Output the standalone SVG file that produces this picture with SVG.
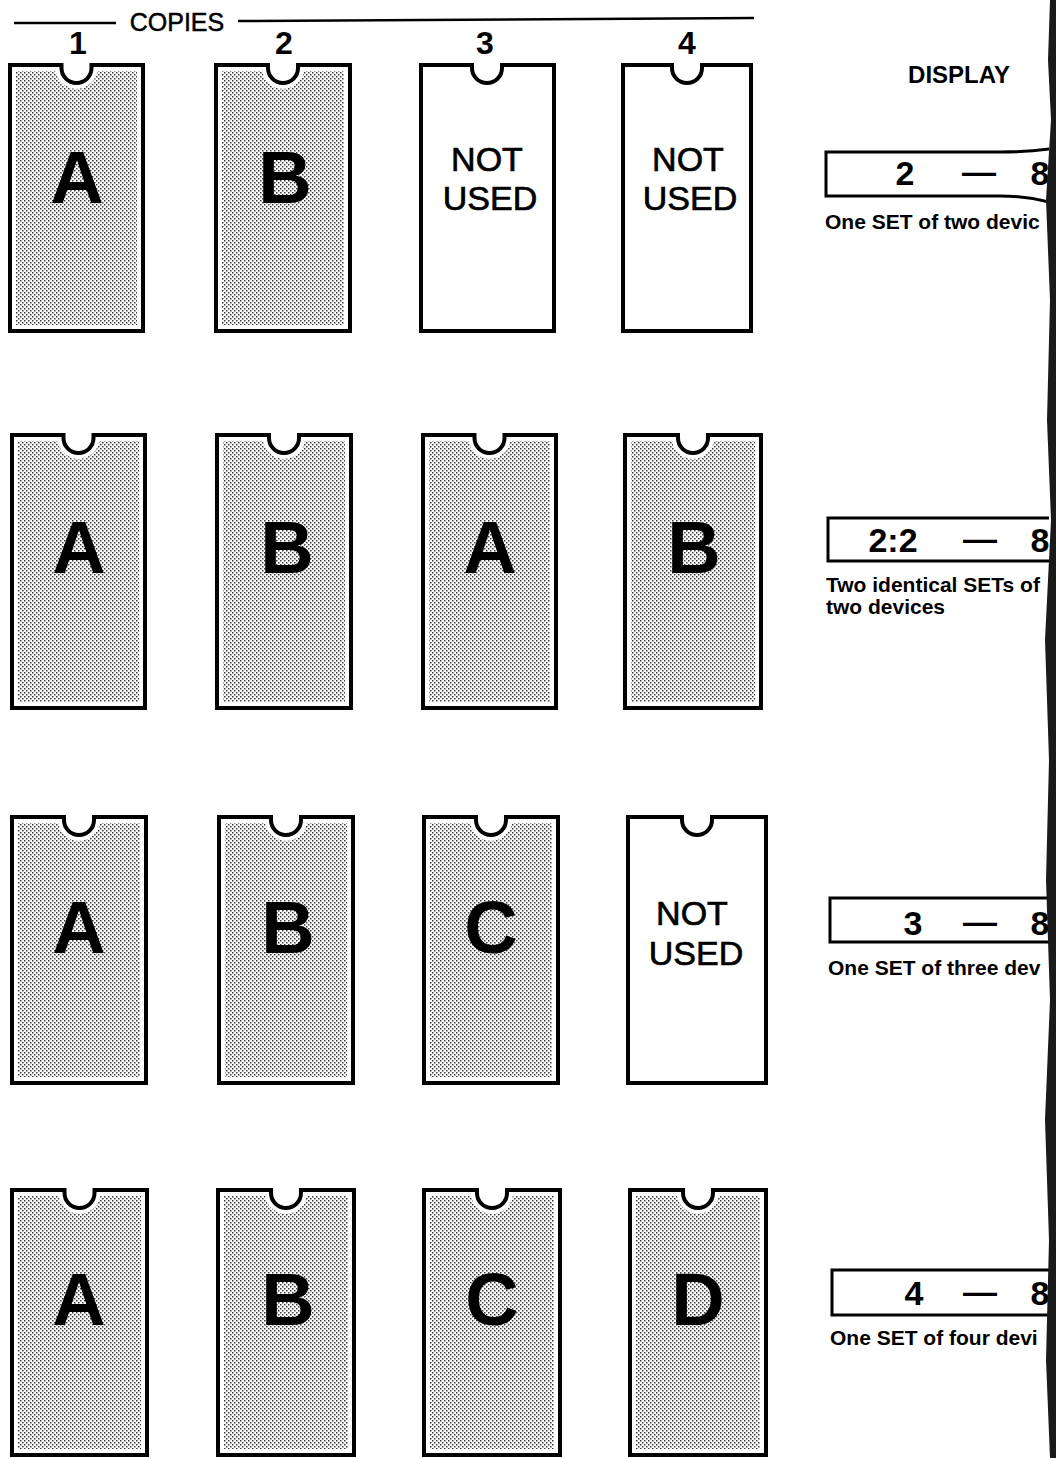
<svg xmlns="http://www.w3.org/2000/svg" xmlns:xlink="http://www.w3.org/1999/xlink" width="1056" height="1458" viewBox="0 0 1056 1458">
<style>
text{font-family:"Liberation Sans",Arial,Helvetica,sans-serif;fill:#000}
.halo{fill:url(#dots);stroke:#fff;stroke-width:12;stroke-linejoin:miter}
.edge{fill:none;stroke:#000;stroke-width:4;stroke-linejoin:miter}
.blank{fill:#fff;stroke:#000;stroke-width:4;stroke-linejoin:miter}
.big{font-size:74px;font-weight:bold;text-anchor:middle}
.nu{font-size:34px;text-anchor:middle;stroke:#000;stroke-width:0.7}
.num{font-size:32px;font-weight:bold;text-anchor:middle}
.box{fill:#fff;stroke:#000;stroke-width:3}
.dig{font-size:34px;font-weight:bold;text-anchor:middle}
.cap{font-size:21px;font-weight:bold}
.rule{stroke:#000;stroke-width:2.5;fill:none}
</style>
<defs>
<pattern id="dots" width="4" height="4" patternUnits="userSpaceOnUse">
<rect width="4" height="4" fill="#fff"/>
<rect x="0" y="0" width="1.5" height="1.5" fill="#3a3a3a"/>
<rect x="2" y="2" width="1.5" height="1.5" fill="#3a3a3a"/>
</pattern>
<clipPath id="page"><rect x="0" y="0" width="1049" height="1458"/></clipPath>
<path id="p11" d="M10,65 H61.5 v3 a15,15 0 0 0 30,0 v-3 H143 V331 H10 Z"/>
<path id="p12" d="M216,65 H268 v3 a15,15 0 0 0 30,0 v-3 H350 V331 H216 Z"/>
<path id="p21" d="M12,435 H63.5 v3 a15,15 0 0 0 30,0 v-3 H145 V708 H12 Z"/>
<path id="p22" d="M217,435 H269 v3 a15,15 0 0 0 30,0 v-3 H351 V708 H217 Z"/>
<path id="p23" d="M423,435 H474.5 v3 a15,15 0 0 0 30,0 v-3 H556 V708 H423 Z"/>
<path id="p24" d="M625,435 H678 v3 a15,15 0 0 0 30,0 v-3 H761 V708 H625 Z"/>
<path id="p31" d="M12,817 H64 v3 a15,15 0 0 0 30,0 v-3 H146 V1083 H12 Z"/>
<path id="p32" d="M219,817 H271 v3 a15,15 0 0 0 30,0 v-3 H353 V1083 H219 Z"/>
<path id="p33" d="M424,817 H476 v3 a15,15 0 0 0 30,0 v-3 H558 V1083 H424 Z"/>
<path id="p41" d="M12,1190 H64.5 v3 a15,15 0 0 0 30,0 v-3 H147 V1455 H12 Z"/>
<path id="p42" d="M218,1190 H271 v3 a15,15 0 0 0 30,0 v-3 H354 V1455 H218 Z"/>
<path id="p43" d="M424,1190 H477 v3 a15,15 0 0 0 30,0 v-3 H560 V1455 H424 Z"/>
<path id="p44" d="M630,1190 H683 v3 a15,15 0 0 0 30,0 v-3 H766 V1455 H630 Z"/>
</defs>

<g id="header">
<line class="rule" x1="14" y1="23" x2="116" y2="23"/>
<text x="177" y="31" font-size="25" text-anchor="middle" stroke="#000" stroke-width="0.5">COPIES</text>
<line class="rule" x1="238" y1="21" x2="754" y2="18"/>
<text class="num" x="78" y="54">1</text>
<text class="num" x="284" y="54">2</text>
<text class="num" x="485" y="54">3</text>
<text class="num" x="687" y="54">4</text>
<text x="959" y="83" font-size="24" font-weight="bold" text-anchor="middle">DISPLAY</text>
</g>

<!-- Row 1 -->
<g id="r1c1">
<use href="#p11" xlink:href="#p11" class="halo"/>
<use href="#p11" xlink:href="#p11" class="edge"/>
<text class="big" x="77" y="203">A</text>
</g>
<g id="r1c2">
<use href="#p12" xlink:href="#p12" class="halo"/>
<use href="#p12" xlink:href="#p12" class="edge"/>
<text class="big" x="285" y="203">B</text>
</g>
<g id="r1c3">
<path class="blank" d="M421,65 H472 v3 a15,15 0 0 0 30,0 v-3 H554 V331 H421 Z"/>
<text class="nu" x="487" y="171">NOT</text>
<text class="nu" x="490" y="210">USED</text>
</g>
<g id="r1c4">
<path class="blank" d="M623,65 H672 v3 a15,15 0 0 0 30,0 v-3 H751 V331 H623 Z"/>
<text class="nu" x="688" y="171">NOT</text>
<text class="nu" x="690" y="210">USED</text>
</g>

<!-- Row 2 -->
<g id="r2c1">
<use href="#p21" xlink:href="#p21" class="halo"/>
<use href="#p21" xlink:href="#p21" class="edge"/>
<text class="big" x="79" y="573">A</text>
</g>
<g id="r2c2">
<use href="#p22" xlink:href="#p22" class="halo"/>
<use href="#p22" xlink:href="#p22" class="edge"/>
<text class="big" x="287" y="573">B</text>
</g>
<g id="r2c3">
<use href="#p23" xlink:href="#p23" class="halo"/>
<use href="#p23" xlink:href="#p23" class="edge"/>
<text class="big" x="490" y="573">A</text>
</g>
<g id="r2c4">
<use href="#p24" xlink:href="#p24" class="halo"/>
<use href="#p24" xlink:href="#p24" class="edge"/>
<text class="big" x="694" y="573">B</text>
</g>

<!-- Row 3 -->
<g id="r3c1">
<use href="#p31" xlink:href="#p31" class="halo"/>
<use href="#p31" xlink:href="#p31" class="edge"/>
<text class="big" x="79" y="953">A</text>
</g>
<g id="r3c2">
<use href="#p32" xlink:href="#p32" class="halo"/>
<use href="#p32" xlink:href="#p32" class="edge"/>
<text class="big" x="288" y="953">B</text>
</g>
<g id="r3c3">
<use href="#p33" xlink:href="#p33" class="halo"/>
<use href="#p33" xlink:href="#p33" class="edge"/>
<text class="big" x="491" y="953">C</text>
</g>
<g id="r3c4">
<path class="blank" d="M628,817 H682 v3 a15,15 0 0 0 30,0 v-3 H766 V1083 H628 Z"/>
<text class="nu" x="692" y="925">NOT</text>
<text class="nu" x="696" y="965">USED</text>
</g>

<!-- Row 4 -->
<g id="r4c1">
<use href="#p41" xlink:href="#p41" class="halo"/>
<use href="#p41" xlink:href="#p41" class="edge"/>
<text class="big" x="79" y="1325">A</text>
</g>
<g id="r4c2">
<use href="#p42" xlink:href="#p42" class="halo"/>
<use href="#p42" xlink:href="#p42" class="edge"/>
<text class="big" x="288" y="1325">B</text>
</g>
<g id="r4c3">
<use href="#p43" xlink:href="#p43" class="halo"/>
<use href="#p43" xlink:href="#p43" class="edge"/>
<text class="big" x="492" y="1325">C</text>
</g>
<g id="r4c4">
<use href="#p44" xlink:href="#p44" class="halo"/>
<use href="#p44" xlink:href="#p44" class="edge"/>
<text class="big" x="698" y="1325">D</text>
</g>

<!-- Displays -->
<g id="disp1" clip-path="url(#page)">
<path d="M826,152 H1000 Q1030,152 1056,148 L1056,204 Q1030,196 1000,196 H826 Z" fill="#fff" stroke="#000" stroke-width="3"/>
<text class="dig" x="905" y="185">2</text>
<text class="dig" x="979" y="183">—</text>
<text class="dig" x="1040" y="185">8</text>
<text class="cap" x="825" y="229">One SET of two devic</text>
</g>
<g id="disp2" clip-path="url(#page)">
<rect class="box" x="828" y="518" width="240" height="43"/>
<text class="dig" x="893" y="552">2:2</text>
<text class="dig" x="980" y="550">—</text>
<text class="dig" x="1040" y="552">8</text>
<text class="cap" x="826" y="592">Two identical SETs of</text>
<text class="cap" x="826" y="614">two devices</text>
</g>
<g id="disp3" clip-path="url(#page)">
<rect class="box" x="830" y="898" width="240" height="44"/>
<text class="dig" x="913" y="935">3</text>
<text class="dig" x="980" y="933">—</text>
<text class="dig" x="1040" y="935">8</text>
<text class="cap" x="828" y="975">One SET of three dev</text>
</g>
<g id="disp4" clip-path="url(#page)">
<rect class="box" x="832" y="1270" width="240" height="45"/>
<text class="dig" x="914" y="1305">4</text>
<text class="dig" x="980" y="1303">—</text>
<text class="dig" x="1040" y="1305">8</text>
<text class="cap" x="830" y="1345">One SET of four devi</text>
</g>

<g id="connectors"></g>

<path id="edge-strip" d="M1056,0 L1050,0 L1048,60 L1051,120 L1046,200 L1050,300 L1047,420 L1051,520 L1045,640 L1049,760 L1046,880 L1050,1000 L1045,1120 L1049,1240 L1046,1360 L1050,1458 L1056,1458 Z" fill="#1a1a1a"/>
</svg>
